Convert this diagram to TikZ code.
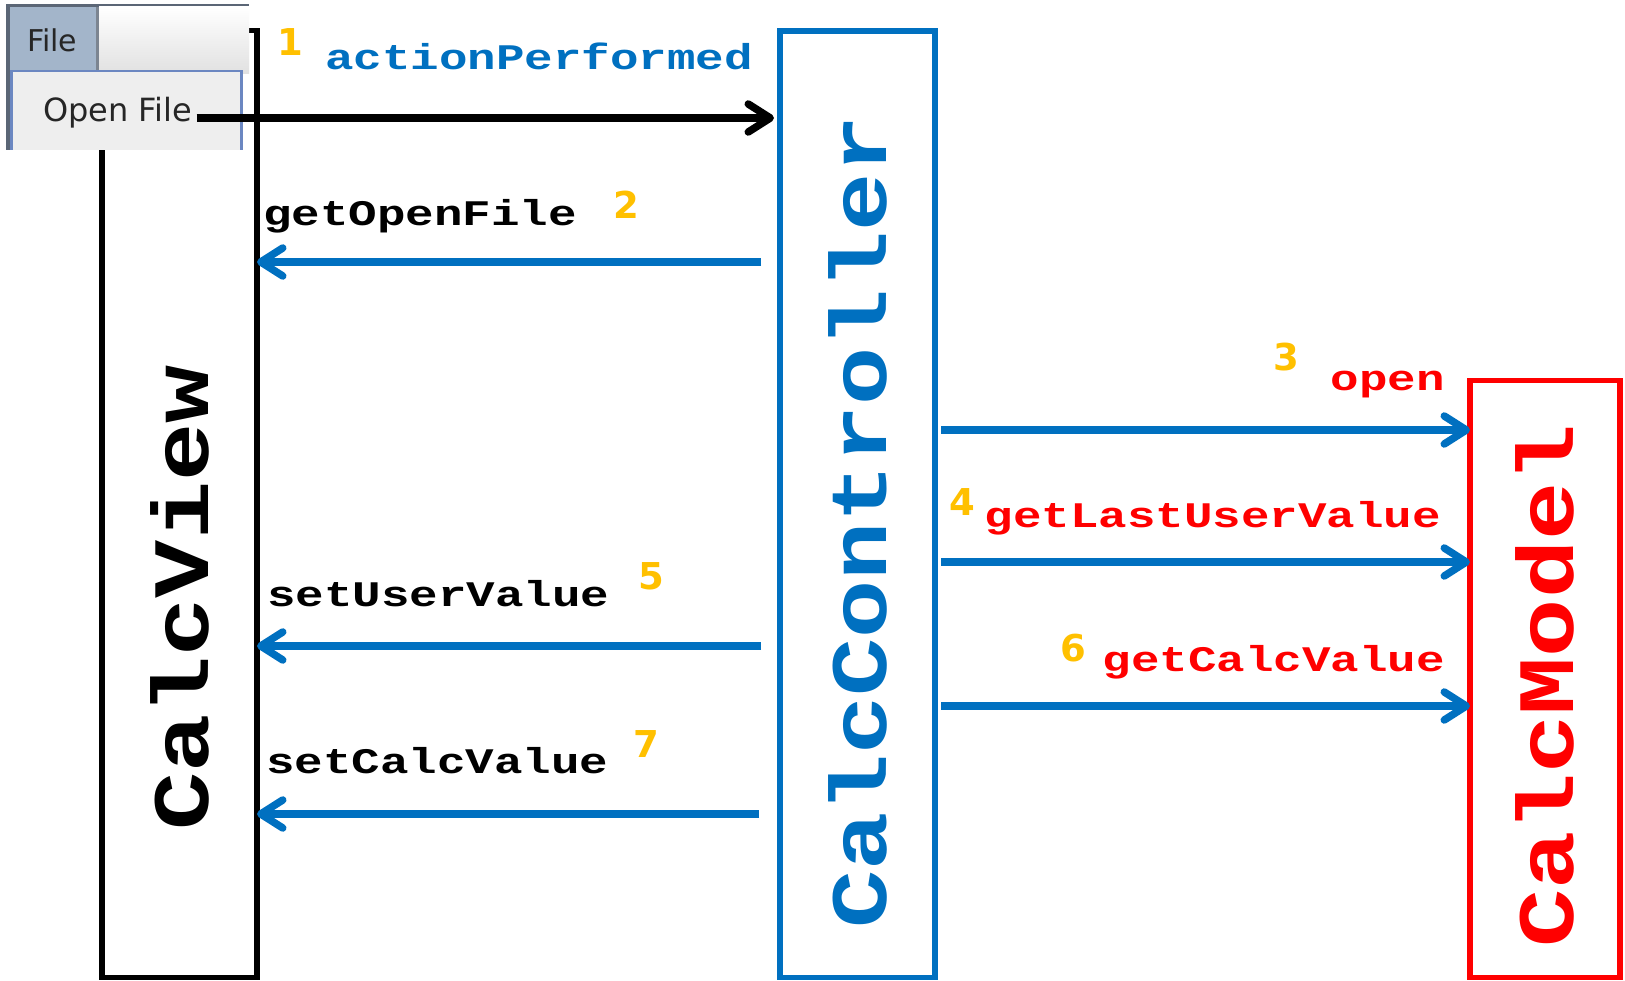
\documentclass[tikz,border=0pt]{standalone}
\usepackage{fontspec}
\setmonofont{Liberation Mono}
\newfontfamily\numfont{DejaVu Sans}
\newfontfamily\menufont{DejaVu Sans}
\usetikzlibrary{arrows.meta,calc}
\definecolor{cblue}{HTML}{0070C0}
\definecolor{cred}{HTML}{FF0000}
\definecolor{corange}{HTML}{FFC000}
\definecolor{mdark}{HTML}{5B6676}
\definecolor{tabfill}{HTML}{A3B5CA}
\definecolor{dropblue}{HTML}{6B87C1}
\definecolor{dropfill}{HTML}{EEEEEE}
\begin{document}
\begin{tikzpicture}[x=1pt,y=-1pt,
  box/.style={draw, line width=5.5pt, inner sep=0pt, outer sep=0pt, fill=white},
  big/.style={font=\fontsize{80}{80}\selectfont\ttfamily\bfseries, rotate=90, inner sep=0pt},
  lab/.style={font=\fontsize{36}{36}\selectfont\ttfamily\bfseries, inner sep=0pt},
  num/.style={font=\fontsize{37}{37}\selectfont\numfont\bfseries, text=corange, inner sep=0pt},
  arr/.style={line width=7.5pt, -{Straight Barb[length=22pt,width=28pt,round]}},
  menutext/.style={inner sep=0pt, anchor=base west, text=black!85}
]
\useasboundingbox (0,0) rectangle (1625,981);
\fill[white] (0,0) rectangle (1625,981);

% boxes
\node[box, draw=black, minimum width=155pt, minimum height=947pt] (view) at (179.5,504) {};
\node[box, draw=cblue, minimum width=155pt, minimum height=946.5pt] (ctrl) at (857.5,504.25) {};
\node[box, draw=cred, minimum width=150pt, minimum height=597pt] (model) at (1545,679) {};

\node[big, text=black] (viewlab) at (view.center |- 0,598) {\scalebox{1.21}[1]{CalcView}};
\node[big, text=cblue] (ctrllab) at (ctrl.center |- 0,522) {\scalebox{1.21}[1]{CalcController}};
\node[big, text=cred] (modellab) at (model.center |- 0,686) {\scalebox{1.21}[1]{CalcModel}};

% menu
\fill[mdark] (6,4) rectangle (249,7);
\fill[mdark] (6,4) rectangle (10,150);
\fill[tabfill] (10,7) rectangle (96,70);
\fill[mdark!80] (96,7) rectangle (99,70);
\begin{scope}[y=1pt]
\shade[top color=white, bottom color=black!12] (99,-7) rectangle (249,-74);
\end{scope}
\fill[dropfill] (10,70) rectangle (243,150);
\draw[dropblue, line width=2.5pt] (11.25,150) -- (11.25,71.25) -- (241.25,71.25) -- (241.25,150);
\node[menutext, font=\fontsize{30}{30}\selectfont\menufont] (file) at (27,52) {File};
\node[menutext, font=\fontsize{32}{32}\selectfont\menufont] (openfile) at (43,122) {Open File};

% levels
\coordinate (y1) at (0,118);
\coordinate (y2) at (0,262);
\coordinate (y3) at (0,430);
\coordinate (y4) at (0,562);
\coordinate (y5) at (0,646);
\coordinate (y6) at (0,706);
\coordinate (y7) at (0,814);

% arrows
\draw[arr, black] ($(openfile.east |- y1)+(4,0)$) -- ($(ctrl.west |- y1)+(-6,0)$);
\draw[arr, cblue] ($(ctrl.west |- y2)+(-19,0)$) -- (view.east |- y2);
\draw[arr, cblue] ($(ctrl.east |- y3)+(6,0)$) -- (model.west |- y3);
\draw[arr, cblue] ($(ctrl.east |- y4)+(6,0)$) -- (model.west |- y4);
\draw[arr, cblue] ($(ctrl.west |- y5)+(-19,0)$) -- (view.east |- y5);
\draw[arr, cblue] ($(ctrl.east |- y6)+(6,0)$) -- (model.west |- y6);
\draw[arr, cblue] ($(ctrl.west |- y7)+(-21,0)$) -- (view.east |- y7);

% labels
\node[lab, text=cblue, anchor=base west] (l1) at (325,70) {\scalebox{1.32}[1]{actionPerformed}};
\node[lab, text=black, anchor=base west] (l2) at (263,226) {\scalebox{1.32}[1]{getOpenFile}};
\node[lab, text=cred, anchor=base east] (l3) at (1445,391) {\scalebox{1.32}[1]{open}};
\node[lab, text=cred, anchor=base east] (l4) at (1441,527) {\scalebox{1.32}[1]{getLastUserValue}};
\node[lab, text=black, anchor=base west] (l5) at (267,606) {\scalebox{1.32}[1]{setUserValue}};
\node[lab, text=cred, anchor=base east] (l6) at (1445,671) {\scalebox{1.32}[1]{getCalcValue}};
\node[lab, text=black, anchor=base west] (l7) at (266,773) {\scalebox{1.32}[1]{setCalcValue}};

% numbers
\node[num] (n1) at (290,42) {1};
\node[num] (n2) at (626,205) {2};
\node[num] (n3) at (1286,357) {3};
\node[num] (n4) at (962,502) {4};
\node[num] (n5) at (651,576) {5};
\node[num] (n6) at (1073,648) {6};
\node[num] (n7) at (646,744) {7};
\end{tikzpicture}
\end{document}
